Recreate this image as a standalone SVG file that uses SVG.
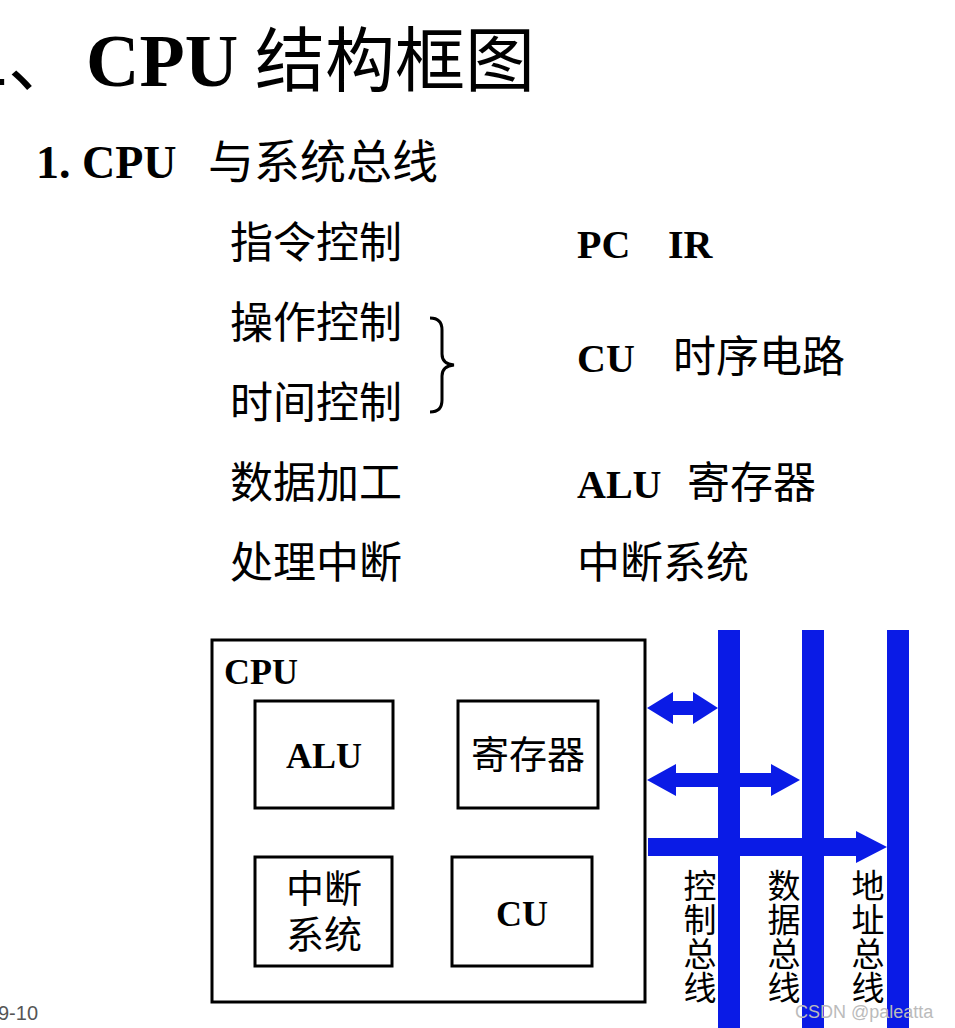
<svg xmlns="http://www.w3.org/2000/svg" width="955" height="1028" viewBox="0 0 955 1028">
<style>
.t{font-family:"Liberation Serif","Noto Sans CJK SC",serif;fill:#000}
.b{font-weight:bold}
.box{fill:none;stroke:#000;stroke-width:3}
.bus{fill:#0a1be6}
</style>
<rect width="955" height="1028" fill="#fff"/>
<text class="t" x="-62" y="86" font-size="70">二、</text>
<text class="t b" x="86" y="86" font-size="74">CPU</text>
<text class="t" x="255" y="86" font-size="70">结构框图</text>
<text class="t b" x="36" y="178" font-size="46">1. CPU</text>
<text class="t" x="208" y="178" font-size="46">与系统总线</text>
<g class="t" font-size="43">
<text x="230" y="258">指令控制</text>
<text x="230" y="338">操作控制</text>
<text x="230" y="418">时间控制</text>
<text x="230" y="498">数据加工</text>
<text x="230" y="578">处理中断</text>
<text x="673" y="372">时序电路</text>
<text x="687" y="498">寄存器</text>
<text x="577" y="578">中断系统</text>
</g>
<g class="t b" font-size="40">
<text x="577" y="258">PC</text>
<text x="668" y="258">IR</text>
<text x="577" y="372">CU</text>
<text x="577" y="498">ALU</text>
</g>
<path d="M430 318 Q442 318 442 330 L442 354 Q442 364 454 365 Q442 366 442 376 L442 400 Q442 412 430 412" fill="none" stroke="#000" stroke-width="3"/>
<g id="cpu"><rect class="box" x="212" y="640" width="433" height="362"/><text class="t b" x="224" y="684" font-size="36">CPU</text></g>
<g id="alu"><rect class="box" x="255" y="701" width="138" height="107"/><text class="t b" x="324" y="768" font-size="36" text-anchor="middle">ALU</text></g>
<g id="reg"><rect class="box" x="458" y="701" width="140" height="107"/><text class="t" x="528" y="768" font-size="38" text-anchor="middle">寄存器</text></g>
<g id="int"><rect class="box" x="255" y="857" width="137" height="109"/><text class="t" x="324" y="902" font-size="38" text-anchor="middle">中断</text><text class="t" x="324" y="948" font-size="38" text-anchor="middle">系统</text></g>
<g id="cu"><rect class="box" x="452" y="857" width="140" height="109"/><text class="t b" x="522" y="926" font-size="36" text-anchor="middle">CU</text></g>
<g id="buses">
<rect class="bus" x="718" y="630" width="22" height="398"/>
<rect class="bus" x="802" y="630" width="22" height="398"/>
<rect class="bus" x="887" y="630" width="22" height="398"/>
</g>
<g id="connectors" class="bus">
<path d="M647 708 L673 692 L673 701 L693 701 L693 692 L718 708 L693 724 L693 715 L673 715 L673 724 Z"/>
<path d="M647 780 L676 764 L676 773 L771 773 L771 764 L800 780 L771 796 L771 787 L676 787 L676 796 Z"/>
<path d="M648 838 L856 838 L856 831 L887 847 L856 863 L856 856 L648 856 Z"/>
</g>
<g class="t" font-size="33" text-anchor="middle">
<text x="700" y="898">控</text><text x="700" y="932">制</text><text x="700" y="966">总</text><text x="700" y="1000">线</text>
<text x="784" y="898">数</text><text x="784" y="932">据</text><text x="784" y="966">总</text><text x="784" y="1000">线</text>
<text x="868" y="898">地</text><text x="868" y="932">址</text><text x="868" y="966">总</text><text x="868" y="1000">线</text>
</g>
<text x="-2" y="1020" font-family="Liberation Sans,sans-serif" font-size="20" fill="#555">9-10</text>
<text x="795" y="1018" font-family="Liberation Sans,sans-serif" font-size="18" fill="#bbb">CSDN @paleatta</text>
</svg>
